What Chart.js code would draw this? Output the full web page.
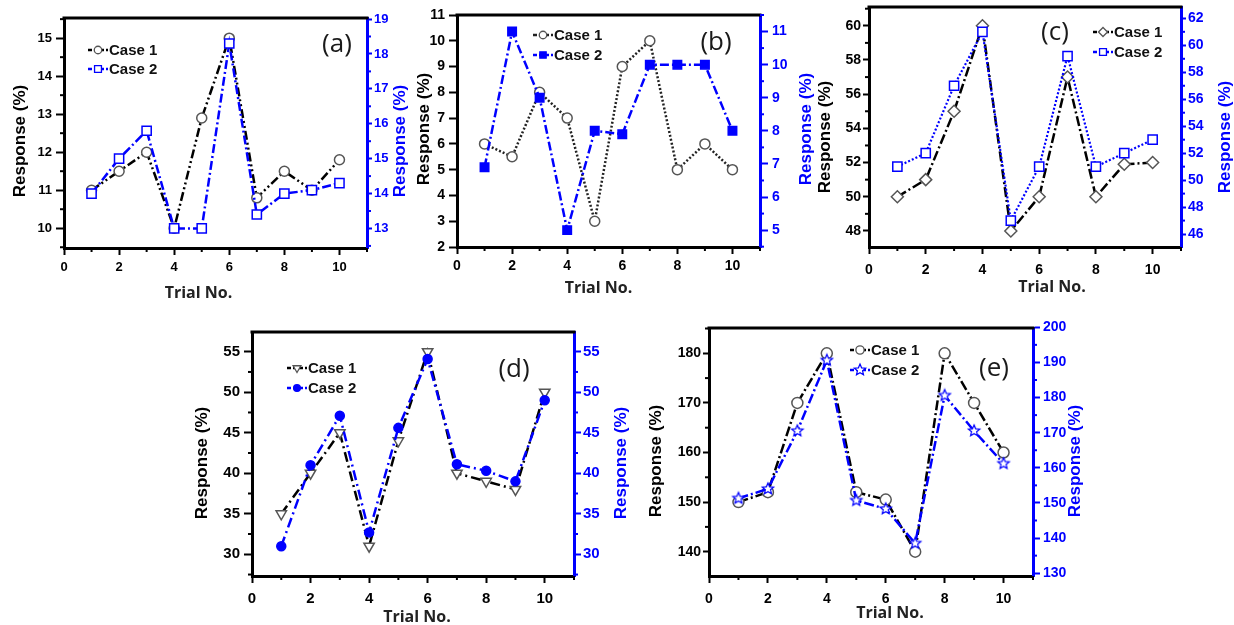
<!DOCTYPE html>
<html lang="en">
<head>
<meta charset="UTF-8">
<title>Response vs Trial No.</title>
<script src="https://cdn.jsdelivr.net/npm/chart.js@4.4.0/dist/chart.umd.min.js"></script>
<style>
  body { margin: 0; background: #fff; width: 1234px; height: 625px; overflow: hidden; position: relative; }
  canvas { position: absolute; }
</style>
</head>
<body>
<canvas id="chartA"></canvas>
<canvas id="chartB"></canvas>
<canvas id="chartC"></canvas>
<canvas id="chartD"></canvas>
<canvas id="chartE"></canvas>

<script>
// ---- data ----
const trials = [1, 2, 3, 4, 5, 6, 7, 8, 9, 10];
const xTicks = [0, 2, 4, 6, 8, 10];
const seriesNames = ['Case 1', 'Case 2'];

// (a)
const aCase1 = [11, 11.5, 12, 10, 12.9, 15, 10.8, 11.5, 11, 11.8];
const aCase2 = [14, 15, 15.8, 13, 13, 18.3, 13.4, 14, 14.1, 14.3];
const aLeftTicks = [10, 11, 12, 13, 14, 15];
const aRightTicks = [13, 14, 15, 16, 17, 18, 19];

// (b)
const bCase1 = [6, 5.5, 8, 7, 3, 9, 10, 5, 6, 5];
const bCase2 = [6.9, 11, 9, 5, 8, 7.9, 10, 10, 10, 8];
const bLeftTicks = [2, 3, 4, 5, 6, 7, 8, 9, 10, 11];
const bRightTicks = [5, 6, 7, 8, 9, 10, 11];

// (c)
const cCase1 = [50, 51, 55, 60, 48, 50, 57, 50, 51.9, 52];
const cCase2 = [51, 52, 57, 61, 47, 51, 59.2, 51, 52, 53];
const cLeftTicks = [48, 50, 52, 54, 56, 58, 60];
const cRightTicks = [46, 48, 50, 52, 54, 56, 58, 60, 62];

// (d)
const dCase1 = [35, 40, 45, 31, 44, 55, 40, 39, 38, 50];
const dCase2 = [31, 41, 47.1, 32.7, 45.6, 54.1, 41.1, 40.3, 39, 49];
const dLeftTicks = [30, 35, 40, 45, 50, 55];
const dRightTicks = [30, 35, 40, 45, 50, 55];

// (e)
const eCase1 = [150, 152, 170, 180, 152, 150.5, 140, 180, 170, 160];
const eCase2 = [151.3, 154, 170.5, 190.6, 150.7, 148.3, 138.5, 180.6, 170.5, 161.2];
const eLeftTicks = [140, 150, 160, 170, 180];
const eRightTicks = [130, 140, 150, 160, 170, 180, 190, 200];

// ---- styling ----
const BLUE = '#0000ff';
const GREY = '#555';
const TICK_FONT = 'Liberation Sans, Arial, sans-serif';

function starImage(r, color) {
    const s = Math.ceil(r * 2 + 4);
    const c = document.createElement('canvas');
    c.width = s; c.height = s;
    const g = c.getContext('2d');
    g.beginPath();
    for (let i = 0; i < 10; i++) {
        const rad = i % 2 === 0 ? r : r * 0.45;
        const ang = -Math.PI / 2 + i * Math.PI / 5;
        const px = s / 2 + rad * Math.cos(ang), py = s / 2 + rad * Math.sin(ang);
        if (i === 0) g.moveTo(px, py); else g.lineTo(px, py);
    }
    g.closePath();
    g.fillStyle = '#fff'; g.fill();
    g.strokeStyle = color; g.lineWidth = 1.2; g.stroke();
    return c;
}

const panels = [
    {
        id: 'chartA', area: {l: 64, t: 18, r: 367, b: 248}, letter: '(a)', letterAt: [-30, 27],
        case1: aCase1, case2: aCase2,
        left: {min: 9.48, max: 15.53, ticks: aLeftTicks, minor: 0.5, tl: 8, pad: 4},
        right: {min: 12.44, max: 19.03, ticks: aRightTicks, minor: 0.5, tl: 5, pad: 2},
        x: {tl: 7, pad: 5}, fontSize: 13,
        s1: {color: '#000', dash: [9, 3, 2, 3, 2, 3], marker: 'circle', r: 5, fill: '#fff', stroke: GREY},
        s2: {color: BLUE, dash: [9, 3, 2, 3], marker: 'rect', r: 6.5, fill: '#fff', stroke: BLUE},
        legend: {x: 24, y: 32, gap: 19},
        titles: {xdx: -17, xdy: 45, yl: 44, yr: 33, ydy: 8}
    },
    {
        id: 'chartB', area: {l: 457, t: 15, r: 760, b: 247}, letter: '(b)', letterAt: [-44, 28],
        case1: bCase1, case2: bCase2,
        left: {min: 2, max: 11, ticks: bLeftTicks, minor: null, tl: 8, pad: 4},
        right: {min: 4.49, max: 11.5, ticks: bRightTicks, minor: 0.5, tl: 8, pad: 4},
        x: {tl: 7, pad: 4}, fontSize: 14,
        s1: {color: '#222', dash: [2, 2], marker: 'circle', r: 5, fill: '#fff', stroke: GREY},
        s2: {color: BLUE, dash: [9, 3, 2, 3], marker: 'rect', r: 6, fill: BLUE, stroke: BLUE},
        legend: {x: 76, y: 20, gap: 20},
        titles: {xdx: -10, xdy: 41, yl: 33, yr: 46, ydy: -2}
    },
    {
        id: 'chartC', area: {l: 869, t: 7, r: 1181, b: 247}, letter: '(c)', letterAt: [-126, 26],
        case1: cCase1, case2: cCase2,
        left: {min: 47.06, max: 61.1, ticks: cLeftTicks, minor: 1, tl: 6, pad: 2},
        right: {min: 45.04, max: 62.84, ticks: cRightTicks, minor: 1, tl: 5, pad: 2},
        x: {tl: 7, pad: 8}, fontSize: 14,
        s1: {color: '#000', dash: [10, 3, 2, 3], marker: 'rectRot', r: 6, fill: '#fff', stroke: GREY},
        s2: {color: BLUE, dash: [2, 2], marker: 'rect', r: 6.5, fill: '#fff', stroke: BLUE, width: 2.2},
        legend: {x: 224, y: 25, gap: 20},
        titles: {xdx: 27, xdy: 40, yl: 44, yr: 44, ydy: 10}
    },
    {
        id: 'chartD', area: {l: 252, t: 332, r: 574, b: 576}, letter: '(d)', letterAt: [-60, 38],
        case1: dCase1, case2: dCase2,
        left: {min: 27.32, max: 57.43, ticks: dLeftTicks, minor: 2.5, tl: 8, pad: 4},
        right: {min: 27.32, max: 57.43, ticks: dRightTicks, minor: 2.5, tl: 7, pad: 2},
        x: {tl: 7, pad: 7}, fontSize: 15,
        s1: {color: '#000', dash: [10, 4, 2, 4], marker: 'triangle', rot: 180, r: 6, fill: '#fff', stroke: GREY},
        s2: {color: BLUE, dash: [10, 4, 2, 4], marker: 'circle', r: 4.5, fill: BLUE, stroke: BLUE},
        legend: {x: 35, y: 36, gap: 20},
        titles: {xdx: 4, xdy: 41, yl: 50, yr: 47, ydy: 9}
    },
    {
        id: 'chartE', area: {l: 709, t: 328, r: 1033, b: 576}, letter: '(e)', letterAt: [-39, 41],
        case1: eCase1, case2: eCase2,
        left: {min: 135.1, max: 185.1, ticks: eLeftTicks, minor: 5, tl: 6, pad: 2},
        right: {min: 129.2, max: 199.8, ticks: eRightTicks, minor: 5, tl: 7, pad: 3},
        x: {tl: 7, pad: 8}, fontSize: 14,
        s1: {color: '#000', dash: [10, 3, 2, 3], marker: 'circle', r: 5.5, fill: '#fff', stroke: GREY},
        s2: {color: BLUE, dash: [10, 3, 2, 3], marker: starImage(6, BLUE), r: 6, fill: '#fff', stroke: BLUE},
        legend: {x: 141, y: 22, gap: 20},
        titles: {xdx: 19, xdy: 37, yl: 53, yr: 42, ydy: 9}
    }
];

// minor ticks, frame top, legend, titles and panel letter
function drawMinor(ctx, scale, step, majors, side, a, color) {
    if (!step) return;
    ctx.strokeStyle = color;
    ctx.lineWidth = 2;
    const k0 = Math.ceil(scale.min / step - 1e-9);
    const k1 = Math.floor(scale.max / step + 1e-9);
    for (let k = k0; k <= k1; k++) {
        const v = k * step;
        if (majors.some(m => Math.abs(m - v) < 1e-6)) continue;
        const px = scale.getPixelForValue(v);
        ctx.beginPath();
        if (side === 'bottom') { ctx.moveTo(px, a.bottom); ctx.lineTo(px, a.bottom + 4); }
        else if (side === 'left') { ctx.moveTo(a.left, px); ctx.lineTo(a.left - 4, px); }
        else { ctx.moveTo(a.right, px); ctx.lineTo(a.right + 4, px); }
        ctx.stroke();
    }
}

const decor = {
    id: 'decor',
    afterDraw(chart, args, p) {
        const ctx = chart.ctx, a = chart.chartArea, sc = chart.scales;
        ctx.save();
        // top of frame
        ctx.strokeStyle = '#000';
        ctx.lineWidth = 3;
        ctx.beginPath();
        ctx.moveTo(a.left - 1.5, a.top);
        ctx.lineTo(a.right + 1.5, a.top);
        ctx.stroke();

        drawMinor(ctx, sc.x, 1, xTicks, 'bottom', a, '#000');
        drawMinor(ctx, sc.y, p.left.minor, p.left.ticks, 'left', a, '#000');
        drawMinor(ctx, sc.y2, p.right.minor, p.right.ticks, 'right', a, BLUE);

        // legend
        chart.data.datasets.forEach((d, i) => {
            const x0 = a.left + p.legend.x, y = a.top + p.legend.y + i * p.legend.gap;
            ctx.strokeStyle = d.borderColor;
            ctx.lineWidth = 2.5;
            ctx.setLineDash([4, 2]);
            ctx.beginPath();
            ctx.moveTo(x0, y); ctx.lineTo(x0 + 20, y);
            ctx.stroke();
            ctx.setLineDash([]);
            if (Chart.helpers && Chart.helpers.drawPoint) {
                ctx.fillStyle = d.pointBackgroundColor;
                ctx.strokeStyle = d.pointBorderColor;
                ctx.lineWidth = 1.3;
                Chart.helpers.drawPoint(ctx, {
                    pointStyle: d.pointStyle, rotation: d.pointRotation,
                    radius: d.pointRadius * 0.75, borderWidth: 1.3
                }, x0 + 10, y);
            }
            ctx.fillStyle = '#111';
            ctx.font = 'bold 15px ' + TICK_FONT;
            ctx.textAlign = 'left';
            ctx.textBaseline = 'middle';
            ctx.fillText(d.label, x0 + 21, y + 1);
        });

        // panel letter
        ctx.fillStyle = '#1a1a1a';
        ctx.font = '26px "Open Sans", sans-serif';
        ctx.textAlign = 'center';
        ctx.textBaseline = 'middle';
        ctx.fillText(p.letter, a.right + p.letterAt[0], a.top + p.letterAt[1]);

        // axis titles
        const t = p.titles;
        ctx.font = 'bold 16px "Open Sans", sans-serif';
        ctx.fillStyle = '#222';
        ctx.fillText('Trial No.', (a.left + a.right) / 2 + t.xdx, a.bottom + t.xdy);

        const midY = (a.top + a.bottom) / 2 + t.ydy;
        ctx.font = 'bold 17px ' + TICK_FONT;
        [[a.left - t.yl, '#000'], [a.right + t.yr, BLUE]].forEach(([tx, col]) => {
            ctx.save();
            ctx.translate(tx, midY);
            ctx.rotate(-Math.PI / 2);
            ctx.fillStyle = col;
            ctx.fillText('Response (%)', 0, 0);
            ctx.restore();
        });
        ctx.restore();
    }
};

function yScale(pos, cfg, color, size) {
    return {
        type: 'linear', position: pos, min: cfg.min, max: cfg.max,
        afterBuildTicks: s => { s.ticks = cfg.ticks.map(v => ({value: v})); },
        afterFit: s => { s.width = 70; },
        grid: {drawOnChartArea: false, drawTicks: true, tickLength: cfg.tl, tickWidth: 2, tickColor: color},
        border: {display: true, width: 3, color: color},
        ticks: {color: color, padding: cfg.pad, font: {family: TICK_FONT, size: size, weight: 'bold'}}
    };
}

function dataset(label, values, st, axis, order) {
    return {
        label: label,
        data: trials.map((t, i) => ({x: t, y: values[i]})),
        yAxisID: axis,
        order: order,
        borderColor: st.color,
        borderWidth: st.width || 2.5,
        borderDash: st.dash,
        pointStyle: st.marker,
        pointRadius: st.r,
        pointRotation: st.rot || 0,
        pointBackgroundColor: st.fill,
        pointBorderColor: st.stroke,
        pointBorderWidth: 1.5,
        tension: 0,
        fill: false,
        clip: false
    };
}

function makePanel(p) {
    const cv = document.getElementById(p.id);
    const W = p.area.r - p.area.l + 140;
    const H = p.area.b - p.area.t + 25 + 60;
    cv.width = W; cv.height = H;
    cv.style.width = W + 'px'; cv.style.height = H + 'px';
    cv.style.left = (p.area.l - 70) + 'px';
    cv.style.top = (p.area.t - 25) + 'px';

    new Chart(cv, {
        type: 'line',
        data: {
            datasets: [
                dataset(seriesNames[0], p.case1, p.s1, 'y', 1),
                dataset(seriesNames[1], p.case2, p.s2, 'y2', 0)
            ]
        },
        options: {
            responsive: false,
            animation: false,
            layout: {padding: {top: 25, left: 0, right: 0, bottom: 0}},
            plugins: {legend: {display: false}, tooltip: {enabled: false}, decor: p},
            scales: {
                x: {
                    type: 'linear', min: 0, max: 11,
                    afterBuildTicks: s => { s.ticks = xTicks.map(v => ({value: v})); },
                    afterFit: s => { s.height = 60; },
                    grid: {drawOnChartArea: false, drawTicks: true, tickLength: p.x.tl, tickWidth: 2, tickColor: '#000'},
                    border: {display: true, width: 3, color: '#000'},
                    ticks: {color: '#000', padding: p.x.pad, maxRotation: 0, autoSkip: false,
                            font: {family: TICK_FONT, size: p.fontSize, weight: 'bold'}}
                },
                y: yScale('left', p.left, '#000', p.fontSize),
                y2: yScale('right', p.right, BLUE, p.fontSize)
            }
        },
        plugins: [decor]
    });
}

panels.forEach(makePanel);
</script>
</body>
</html>
